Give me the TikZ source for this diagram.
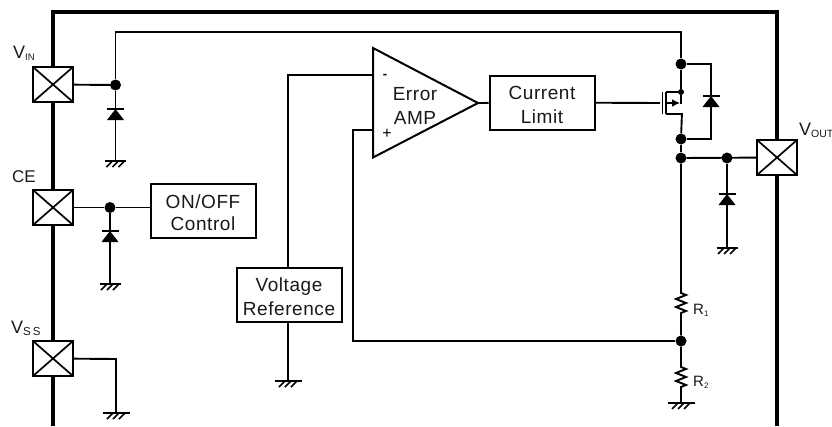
\documentclass[tikz,border=0pt]{standalone}
\usepackage{fontspec}
\setmainfont{Liberation Sans}
\newfontfamily\lsp[LetterSpace=3]{Liberation Sans}
\usetikzlibrary{arrows.meta,calc}
\definecolor{ink}{gray}{0.1}
\newcommand{\fsa}{\lsp\fontsize{19}{24}\selectfont}
\newcommand{\tstrut}{\rule{0pt}{17.5pt}}
\tikzset{
  wire/.style={draw=black,line width=1.9pt,line cap=butt},
  frameline/.style={draw=black,line width=3.2pt},
  pad/.style={draw=black,line width=2.3pt,minimum width=40pt,minimum height=35pt,inner sep=0pt,
    path picture={\draw[line width=1.7pt] (path picture bounding box.north west)--(path picture bounding box.south east)
      (path picture bounding box.north east)--(path picture bounding box.south west);}},
  blockbox/.style={draw=black,line width=2pt,fill=white,inner sep=0pt,align=center,font=\fsa,text=ink},
  dotbig/.style={circle,fill=black,inner sep=0pt,minimum size=11pt},
  dotsmall/.style={circle,fill=black,inner sep=0pt,minimum size=6pt},
  lab/.style={inner sep=0pt,anchor=base west,text=ink},
  pics/gnd/.style={code={
    \draw[line width=1.8pt] (-10.5,0)--(10.5,0);
    \foreach \i in {-3,3,9}{\draw[line width=1.5pt] (\i,0)--(\i-6,6);}
  }},
  pics/gndw/.style={code={
    \draw[line width=1.8pt] (-13,0)--(13.5,0);
    \foreach \i in {-3,3,9}{\draw[line width=1.5pt] (\i,0)--(\i-6,6);}
  }},
  pics/diode/.style={code={
    \fill[black] (-8.5,11)--(8.5,11)--(0,0)--cycle;
    \draw[line width=1.7pt] (-8.5,0)--(8.5,0);
  }},
}
\begin{document}
\begin{tikzpicture}[x=1pt,y=-1pt]
\useasboundingbox (0,0) rectangle (832,426);
% frame
\coordinate (ftl) at (53,12);
\coordinate (ftr) at (777,12);
\coordinate (fbl) at (53,426);
\coordinate (fbr) at (777,426);
\draw[frameline] (fbl) -- (ftl) -- (ftr) -- (fbr);
% pads
\node[pad,fill=white] (vin) at (53,84.5) {};
\node[pad,fill=white] (ce) at (53,207.5) {};
\node[pad,fill=white] (vss) at (53,358.5) {};
\node[pad,fill=white] (vout) at (777,157.5) {};
% pad labels
\node[lab] (lvin) at (13,58) {\fontsize{18}{20}\selectfont V\raisebox{-2.5pt}{\fontsize{9.5}{10}\selectfont IN}};
\node[lab] (lce) at (12,182) {\fontsize{17}{20}\selectfont CE};
\node[lab] (lvss) at (11,333) {\fontsize{18}{20}\selectfont V\raisebox{-2.5pt}{\fontsize{11.5}{10}\selectfont S\,S}};
\node[lab] (lvout) at (799,135) {\fontsize{18}{20}\selectfont V\raisebox{-2.5pt}{\fontsize{10.5}{10}\selectfont OUT}};
% blocks
\node[blockbox,minimum width=105pt,minimum height=54pt] (onoff) at (203,211) {\tstrut ON/OFF\\[-2pt]Control};
\node[blockbox,minimum width=105pt,minimum height=54pt] (vref) at (289,294.5) {\tstrut Voltage\\Reference};
\node[blockbox,minimum width=105pt,minimum height=54pt] (climit) at (542,102.5) {\tstrut Current\\Limit};
% op amp
\coordinate (oa1) at (373,48);
\coordinate (oa2) at (373,157.5);
\coordinate (oa3) at (478,103);
\coordinate (oam) at (373,75);
\coordinate (oap) at (373,130);
\draw[wire,line width=2pt,line join=miter] (oa1) -- (oa3) -- (oa2) -- cycle;
\node[inner sep=0pt,font=\fsa,text=ink,align=center] (eamp) at (415,104) {\tstrut Error\\AMP};
\node[inner sep=0pt,font=\bfseries\fontsize{13}{14}\selectfont] (minus) at (385,76) {-};
\node[inner sep=0pt,font=\fontsize{16}{16}\selectfont] (plus) at (387,134) {+};
% nodes
\node[dotbig] (j1) at (115.5,85) {};
\node[dotbig] (j2) at (110,207.5) {};
\node[dotbig] (j3) at (681,64) {};
\node[dotbig] (j4) at (681,139) {};
\node[dotbig] (j5) at (681,158) {};
\node[dotbig] (j6) at (727,158) {};
\node[dotbig] (j7) at (681,341) {};
\node[dotsmall] (j8) at (681,92) {};
\coordinate (tr) at (681,32);
\coordinate (tl) at (115.5,32);
% VIN
\draw[wire] (vin) -- (j1);
\draw[wire] (j1) -- (tl) -- (tr) -- (j3);
\coordinate (gi) at (115.5,161);
\draw[wire] (j1) -- (gi);
\pic at (115.5,109) {diode};
\pic at (gi) {gnd};
% CE
\draw[wire] (ce) -- (j2) -- (j2 -| onoff.west);
\coordinate (gc) at (110,284);
\draw[wire] (j2) -- (gc);
\pic at (110,231) {diode};
\pic at (gc) {gnd};
% VSS
\coordinate (vc) at (116,359);
\coordinate (gs) at (116,413);
\draw[wire] (vss) -- (vc) -- (gs);
\pic at (gs) {gndw};
% vref
\coordinate (vu) at (288,75);
\coordinate (vb) at (288,322);
\coordinate (gv) at (288,381);
\draw[wire] (vb) -- (gv);
\draw[wire] (vref.north -| vu) -- (vu) -- (oam);
\pic at (gv) {gndw};
% feedback
\coordinate (fb1) at (353,130);
\coordinate (fb2) at (353,341);
\draw[wire] (oap) -- (fb1) -- (fb2) -- (j7);
% amp to limit
\draw[wire] (oa3) -- (climit);
% mosfet
\coordinate (g0) at (660,103);
\draw[wire] (climit) -- (g0);
\draw[wire] (662.5,92) -- (662.5,114);
\draw[wire] (666,92) -- (666,114);
\draw[wire] (666,92) -- (j8);
\draw[wire] (j3) -- (j8) -- (681,104);
\draw[wire,-{Latex[length=8pt,width=8pt]}] (666,103) -- (680,103);
\draw[wire] (666,114) -- (681.9,114) -- (j4);
% body diode
\coordinate (bd1) at (711,64);
\coordinate (bd2) at (711,139);
\draw[wire] (j3) -- (bd1) -- (bd2) -- (j4);
\pic at (711,96) {diode};
% output
\draw[wire] (j4) -- (j5);
\draw[wire] (j5) -- (vout);
\coordinate (ga) at (727,248);
\draw[wire] (j6) -- (ga);
\pic at (727,194) {diode};
\pic at (ga) {gnd};
% divider
\draw[wire,line join=miter] (j5) -- (681,293) -- ++(5,2) -- ++(-10,4) -- ++(10,4) -- ++(-10,4) -- ++(10,4) -- ++(-5,2) -- (j7);
\coordinate (gd) at (681,403);
\draw[wire,line join=miter] (j7) -- (681,367) -- ++(5,2) -- ++(-10,4) -- ++(10,4) -- ++(-10,4) -- ++(10,4) -- ++(-5,2) -- (gd);
\pic at (gd) {gndw};
\node[lab] (lr1) at (693,314) {\fontsize{15}{16}\selectfont R\raisebox{-2pt}{\fontsize{8}{8}\selectfont 1}};
\node[lab] (lr2) at (693,386) {\fontsize{15}{16}\selectfont R\raisebox{-2pt}{\fontsize{8}{8}\selectfont 2}};
\end{tikzpicture}
\end{document}
